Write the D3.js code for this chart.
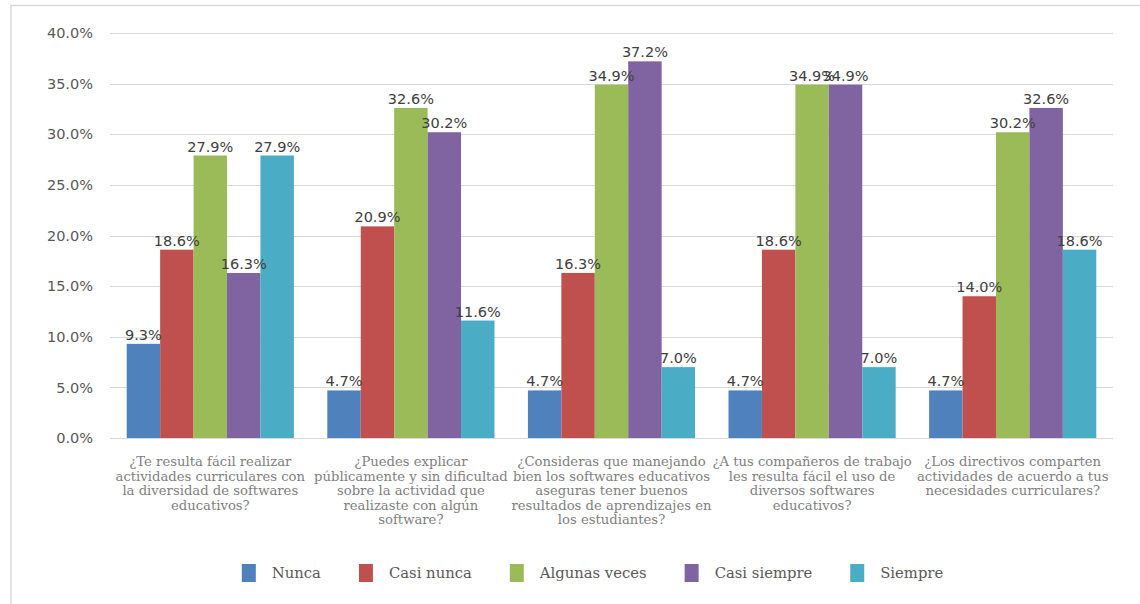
<!DOCTYPE html>
<html>
<head>
<meta charset="utf-8">
<script src="https://cdn.jsdelivr.net/npm/d3@7"></script>
<style>
  html, body { margin: 0; padding: 0; background: #ffffff; }
  svg { display: block; }
</style>
</head>
<body>
<svg id="chart" width="1140" height="604"></svg>
<script>
// Survey questions (x-axis categories), wrapped as printed under the axis
const categories = [
  ["¿Te resulta fácil realizar", "actividades curriculares con", "la diversidad de softwares", "educativos?"],
  ["¿Puedes explicar", "públicamente y sin dificultad", "sobre la actividad que", "realizaste con algún", "software?"],
  ["¿Consideras que manejando", "bien los softwares educativos", "aseguras tener buenos", "resultados de aprendizajes en", "los estudiantes?"],
  ["¿A tus compañeros de trabajo", "les resulta fácil el uso de", "diversos softwares", "educativos?"],
  ["¿Los directivos comparten", "actividades de acuerdo a tus", "necesidades curriculares?"]
];

// Answer options (series)
const seriesNames = ["Nunca", "Casi nunca", "Algunas veces", "Casi siempre", "Siempre"];
const seriesColors = ["#4F81BD", "#C0504D", "#9BBB59", "#8064A2", "#4BACC6"];

// Percentage of answers per question, one array per answer option
const nunca        = [9.3, 4.7, 4.7, 4.7, 4.7];
const casiNunca    = [18.6, 20.9, 16.3, 18.6, 14.0];
const algunasVeces = [27.9, 32.6, 34.9, 34.9, 30.2];
const casiSiempre  = [16.3, 30.2, 37.2, 34.9, 32.6];
const siempre      = [27.9, 11.6, 7.0, 7.0, 18.6];
const seriesValues = [nunca, casiNunca, algunasVeces, casiSiempre, siempre];

// Y axis ticks
const yTicks = [0, 5, 10, 15, 20, 25, 30, 35, 40];

const svg = d3.select("#chart");

// Frame lines (top and left edges of the chart area)
svg.append("line").attr("x1", 10).attr("x2", 1140).attr("y1", 5.5).attr("y2", 5.5)
  .attr("stroke", "#d9d9d9").attr("stroke-width", 1.5);
svg.append("line").attr("x1", 11).attr("x2", 11).attr("y1", 5).attr("y2", 604)
  .attr("stroke", "#d9d9d9").attr("stroke-width", 1.5);

const plot = { left: 110, right: 1113, top: 33, bottom: 438 };

const x0 = d3.scaleBand()
  .domain(d3.range(categories.length))
  .range([plot.left, plot.right])
  .padding(0);

const bw = x0.bandwidth();
const x1 = d3.scaleBand()
  .domain(d3.range(seriesNames.length))
  .range([bw / 12, bw * 11 / 12])
  .padding(0);

const y = d3.scaleLinear().domain([0, 40]).range([plot.bottom, plot.top]);

// Gridlines
svg.append("g")
  .selectAll("line")
  .data(yTicks)
  .join("line")
  .attr("x1", plot.left).attr("x2", plot.right)
  .attr("y1", d => Math.round(y(d)) + 0.5).attr("y2", d => Math.round(y(d)) + 0.5)
  .attr("stroke", "#d9d9d9").attr("stroke-width", 1.2);

// Y axis labels
const yAxis = d3.axisLeft(y).tickValues(yTicks).tickSize(0).tickPadding(0)
  .tickFormat(d => d.toFixed(1) + "%");
const yg = svg.append("g").attr("transform", `translate(${plot.left - 17},0)`).call(yAxis);
yg.select(".domain").remove();
yg.selectAll("text")
  .attr("font-family", "DejaVu Sans")
  .attr("font-size", 14.5)
  .attr("fill", "#595959");

// Bars
const groups = svg.append("g")
  .selectAll("g")
  .data(categories.map((c, i) => i))
  .join("g")
  .attr("transform", i => `translate(${x0(i)},0)`);

groups.selectAll("rect")
  .data(i => seriesValues.map((vals, s) => ({ s, v: vals[i] })))
  .join("rect")
  .attr("x", d => x1(d.s))
  .attr("y", d => y(d.v))
  .attr("width", x1.bandwidth())
  .attr("height", d => y(0) - y(d.v))
  .attr("fill", d => seriesColors[d.s]);

// Value labels
groups.selectAll("text.val")
  .data(i => seriesValues.map((vals, s) => ({ s, v: vals[i] })))
  .join("text")
  .attr("class", "val")
  .attr("x", d => x1(d.s) + x1.bandwidth() / 2)
  .attr("y", d => y(d.v) - 4)
  .attr("text-anchor", "middle")
  .attr("font-family", "DejaVu Sans")
  .attr("font-size", 14.5)
  .attr("fill", "#404040")
  .text(d => d.v.toFixed(1) + "%");

// Category labels
const catLabels = svg.append("g")
  .selectAll("text")
  .data(categories)
  .join("text")
  .attr("x", (d, i) => x0(i) + bw / 2)
  .attr("y", 466)
  .attr("text-anchor", "middle")
  .attr("font-family", "DejaVu Serif")
  .attr("font-size", 13.2)
  .attr("fill", "#7f7f7f");
catLabels.selectAll("tspan")
  .data(d => d)
  .join("tspan")
  .attr("x", function () { return d3.select(this.parentNode).attr("x"); })
  .attr("dy", (d, j) => j === 0 ? 0 : 14.5)
  .text(d => d);

// Legend
const legend = svg.append("g");
const items = legend.selectAll("g")
  .data(seriesNames)
  .join("g");
items.append("rect")
  .attr("width", 14).attr("height", 18)
  .attr("y", 564)
  .attr("fill", (d, i) => seriesColors[i]);
items.append("text")
  .attr("x", 30).attr("y", 578)
  .attr("font-family", "DejaVu Serif")
  .attr("font-size", 14.8)
  .attr("fill", "#595959")
  .text(d => d);

const gap = 38;
let cursor = 0;
const offsets = [];
items.each(function (d, i) {
  offsets.push(cursor);
  const w = d3.select(this).select("text").node().getComputedTextLength();
  cursor += 30 + w + gap;
});
const totalW = cursor - gap;
const startX = 592.5 - totalW / 2;
items.attr("transform", (d, i) => `translate(${startX + offsets[i]},0)`);
</script>
</body>
</html>
